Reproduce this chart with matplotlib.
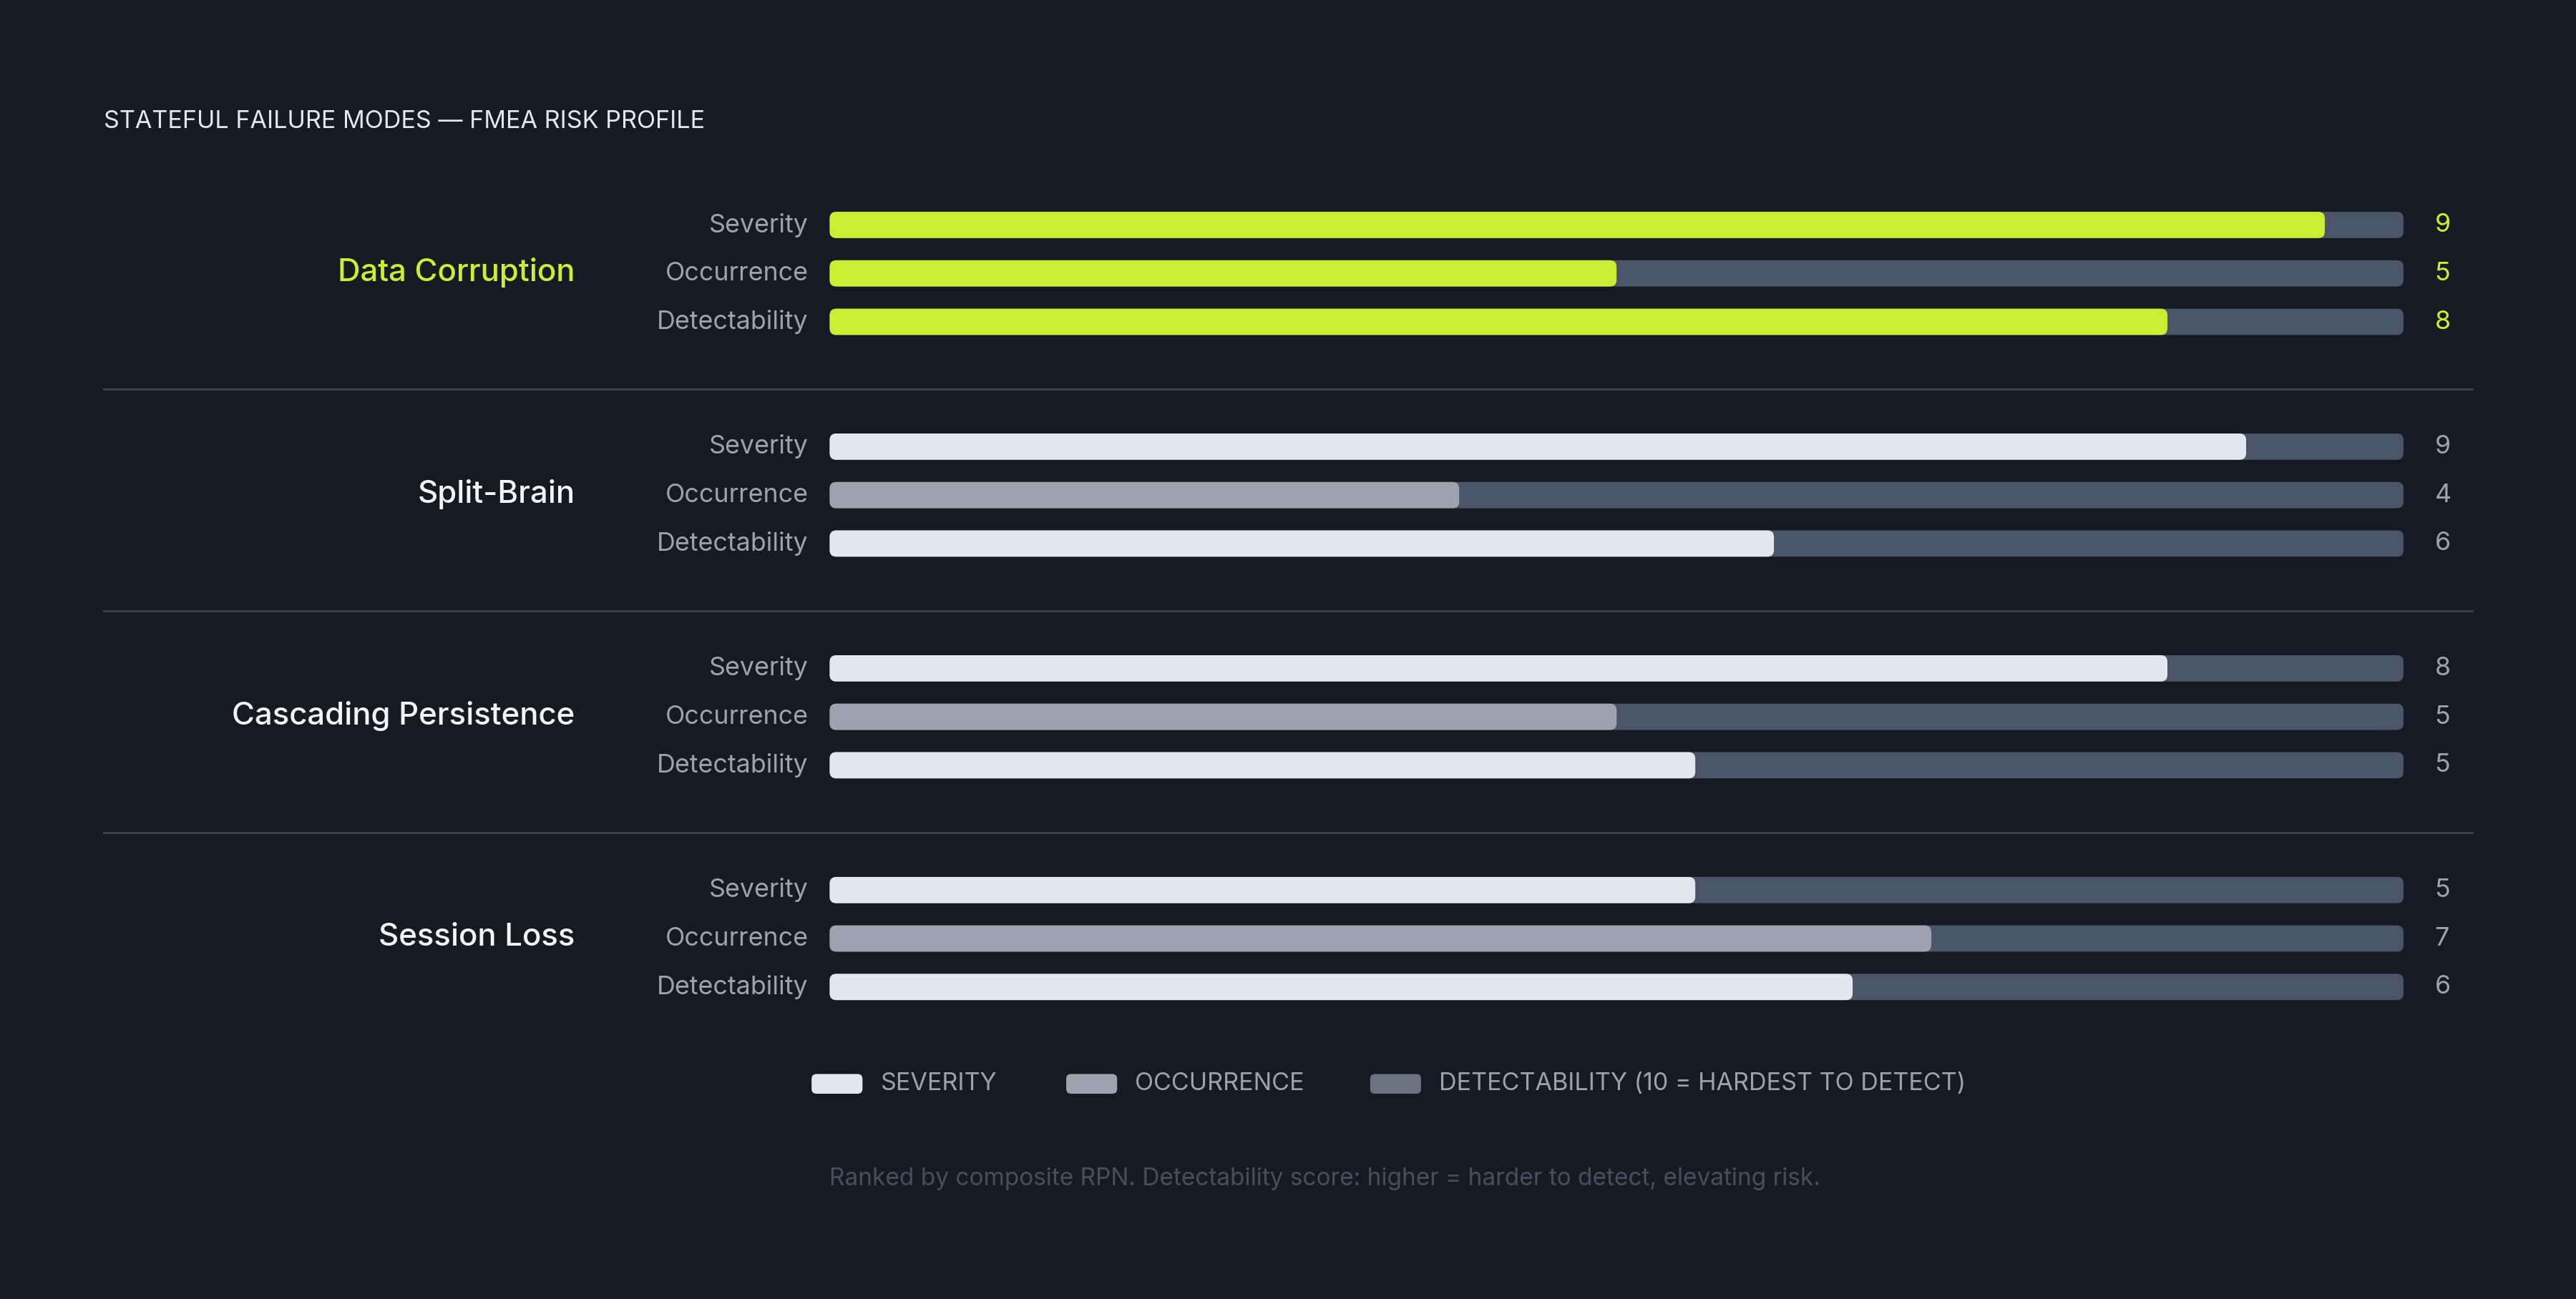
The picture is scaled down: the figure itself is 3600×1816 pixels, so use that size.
import matplotlib
matplotlib.use("Agg")
import matplotlib.pyplot as plt
from matplotlib.patches import FancyBboxPatch

plt.rcParams['font.family'] = ['Inter', 'DejaVu Sans']

groups = ["Data Corruption", "Split-Brain", "Cascading Persistence", "Session Loss"]
metrics = ["Severity", "Occurrence", "Detectability"]
bar_lengths = [[9.5, 5, 8.5], [9, 4, 6], [8.5, 5, 5.5], [5.5, 7, 6.5]]
score_labels = [[9, 5, 8], [9, 4, 6], [8, 5, 5], [5, 7, 6]]
legend_labels = ["SEVERITY", "OCCURRENCE", "DETECTABILITY (10 = HARDEST TO DETECT)"]

BG = "#161a22"; TRACK = "#4a5568"; HI = "#c8ef34"
SEV = "#e2e8f0"; OCC = "#9ca3af"; DET = "#6b7280"; TXT = "#9ca3af"

W, H = 1568, 791
fig = plt.figure(figsize=(12, 12 * H / W), dpi=300, facecolor=BG)
ax = fig.add_axes([0, 0, 1, 1]); ax.set_facecolor(BG)
ax.set_xlim(0, W); ax.set_ylim(H, 0); ax.axis("off")

x0, x1 = 505, 1463
bh = 16
def rbar(x, y, w, color):
    ax.add_patch(FancyBboxPatch((x, y - bh / 2), w, bh,
                 boxstyle="round,pad=0,rounding_size=4", fc=color, ec="none"))

ax.text(63, 74, "STATEFUL FAILURE MODES — FMEA RISK PROFILE", color="#e2e8f0",
        fontsize=8.2, va="center", ha="left")

for gi, g in enumerate(groups):
    base = 137 + gi * 135
    hi = gi == 0
    ax.text(350, base + 29, g, color=HI if hi else "#f1f5f9", fontsize=10.5,
            fontweight="medium", ha="right", va="center")
    for mi, m in enumerate(metrics):
        y = base + mi * 29.5
        ax.text(492, y, m, color=TXT, fontsize=8.6, ha="right", va="center")
        rbar(x0, y, x1 - x0, TRACK)
        col = HI if hi else (OCC if mi == 1 else SEV)
        rbar(x0, y, bar_lengths[gi][mi] / 10 * (x1 - x0), col)
        ax.text(1482, y, str(score_labels[gi][mi]), color=HI if hi else TXT,
                fontsize=8.6, ha="left", va="center")
    if gi < 3:
        ax.plot([63, 1505], [base + 100, base + 100], color="#3a4250", lw=0.7)

lx = [494, 649, 834]
for x, lab, c in zip(lx, legend_labels, [SEV, OCC, DET]):
    ax.add_patch(FancyBboxPatch((x, 654), 31, 12,
                 boxstyle="round,pad=0,rounding_size=3", fc=c, ec="none"))
    ax.text(x + 42, 660, lab, color=TXT, fontsize=8.2, ha="left", va="center")

ax.text(505, 718, "Ranked by composite RPN. Detectability score: higher = harder to detect, elevating risk.",
        color="#474f5e", fontsize=8, ha="left", va="center")

fig.savefig("out.png", dpi=300, facecolor=BG)
